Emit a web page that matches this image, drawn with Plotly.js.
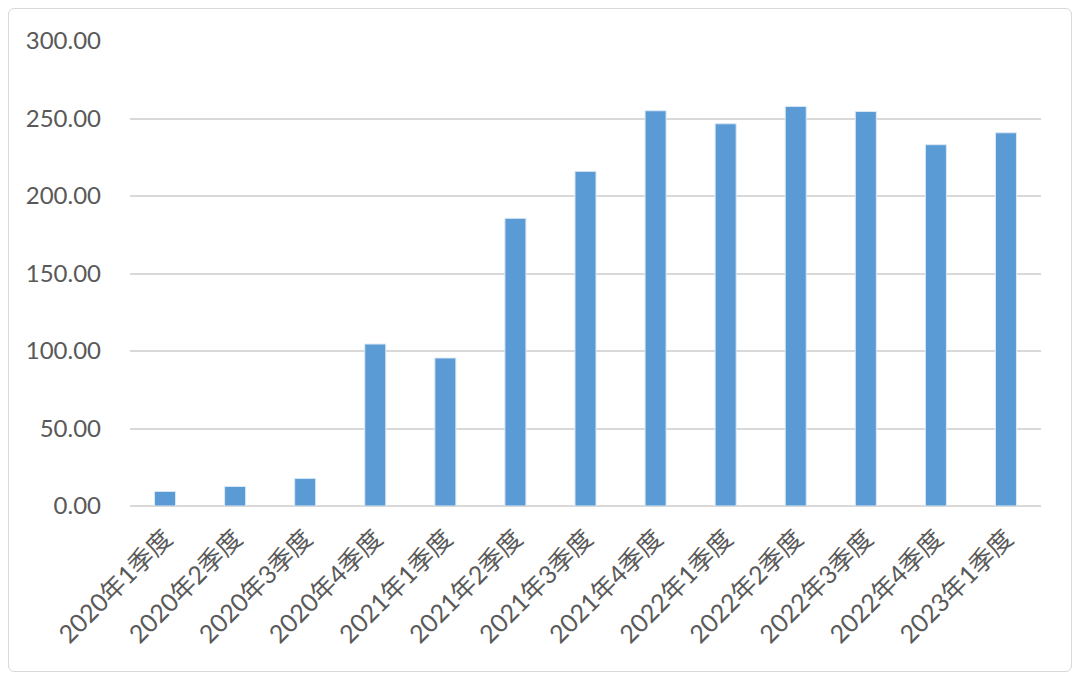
<!DOCTYPE html>
<html>
<head>
<meta charset="utf-8">
<script src="https://cdn.plot.ly/plotly-3.0.1.min.js"></script>
<style>
html,body{margin:0;padding:0;background:#fff;}
#wrap{position:relative;width:1080px;height:678px;}
#chart{width:1080px;height:678px;}
#frame{position:absolute;left:8px;top:8px;width:1062px;height:662px;border:1.5px solid #d9d9d9;border-radius:6px;pointer-events:none;}
</style>
</head>
<body>
<div id="wrap"><div id="chart"></div><div id="frame"></div></div>
<script>
const categories = ["2020年1季度","2020年2季度","2020年3季度","2020年4季度","2021年1季度","2021年2季度","2021年3季度","2021年4季度","2022年1季度","2022年2季度","2022年3季度","2022年4季度","2023年1季度"];
const values = [9.4, 12.6, 17.8, 104.5, 95.5, 185.6, 215.9, 255.0, 246.6, 257.8, 254.5, 233.1, 240.8];
const yTicks = [0, 50, 100, 150, 200, 250, 300];

const trace = {
  type: 'bar',
  x: categories,
  y: values,
  marker: {color: '#5b9bd5', line: {color: '#dbe8f5', width: 1}},
  hoverinfo: 'x+y'
};

const layout = {
  width: 1080, height: 678,
  margin: {l: 130, r: 39, t: 41, b: 172},
  paper_bgcolor: 'rgba(0,0,0,0)',
  plot_bgcolor: '#ffffff',
  bargap: 0.7,
  showlegend: false,
  font: {family: 'Lato, "Noto Sans CJK SC", sans-serif', color: '#595959'},
  xaxis: {
    type: 'category',
    tickangle: -45,
    tickfont: {size: 25, family: 'Lato, "Noto Sans CJK SC", sans-serif', color: '#595959'},
    showgrid: false,
    showline: false,
    ticks: '',
    ticklabelstandoff: 12,
    automargin: false
  },
  yaxis: {
    range: [0, 300],
    tickvals: yTicks,
    tickformat: '.2f',
    tickfont: {size: 24, family: 'Lato, sans-serif', color: '#595959'},
    showgrid: true,
    gridcolor: '#d9d9d9',
    gridwidth: 2,
    zeroline: true,
    zerolinecolor: '#d9d9d9',
    zerolinewidth: 2,
    showline: false,
    ticks: '',
    ticklabelstandoff: 28,
    automargin: false
  }
};

Plotly.newPlot('chart', [trace], layout, {displayModeBar: false, staticPlot: true});
</script>
</body>
</html>
